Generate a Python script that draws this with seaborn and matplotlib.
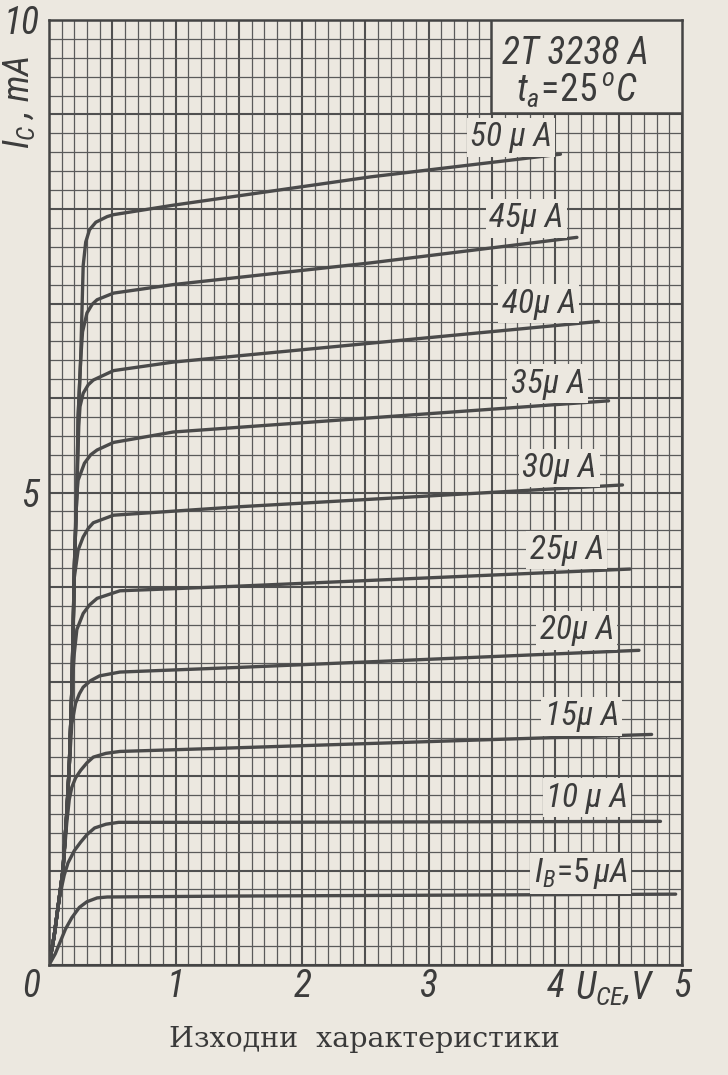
import numpy as np
import pandas as pd
import seaborn as sns
import matplotlib.pyplot as plt
from matplotlib.ticker import MultipleLocator, FuncFormatter
from matplotlib.patches import Rectangle
from matplotlib import font_manager

# Output characteristics (U_CE in V, I_C in mA)
base_currents = [5, 10, 15, 20, 25, 30, 35, 40, 45, 50]

u_05 = [0, 0.05, 0.09, 0.13, 0.18, 0.24, 0.30, 0.38, 0.46, 1.5, 4.95]
i_05 = [0, 0.12, 0.25, 0.38, 0.50, 0.61, 0.67, 0.71, 0.72, 0.73, 0.75]

u_10 = [0, 0.04, 0.08, 0.12, 0.15, 0.20, 0.25, 0.30, 0.36, 0.45, 0.55, 1.5, 4.83]
i_10 = [0, 0.30, 0.70, 0.95, 1.08, 1.21, 1.30, 1.38, 1.45, 1.49, 1.51, 1.51, 1.52]

u_15 = [0, 0.04, 0.08, 0.11, 0.14, 0.16, 0.18, 0.21, 0.25, 0.30, 0.35, 0.45, 0.56, 1.51, 4.76]
i_15 = [0, 0.30, 0.70, 1.00, 1.50, 1.75, 1.88, 1.98, 2.06, 2.14, 2.20, 2.24, 2.26, 2.30, 2.44]

u_20 = [0, 0.04, 0.08, 0.11, 0.14, 0.16, 0.18, 0.21, 0.24, 0.27, 0.33, 0.40, 0.56, 1.51, 4.66]
i_20 = [0, 0.30, 0.70, 1.00, 1.60, 2.10, 2.55, 2.77, 2.87, 2.94, 3.01, 3.06, 3.10, 3.15, 3.33]

u_25 = [0, 0.04, 0.08, 0.11, 0.14, 0.16, 0.18, 0.20, 0.22, 0.27, 0.32, 0.38, 0.56, 1.51, 4.59]
i_25 = [0, 0.30, 0.70, 1.00, 1.60, 2.10, 2.90, 3.30, 3.55, 3.72, 3.81, 3.88, 3.96, 4.01, 4.19]

u_30 = [0, 0.04, 0.08, 0.11, 0.14, 0.16, 0.18, 0.19, 0.20, 0.23, 0.27, 0.31, 0.35, 0.51, 1.51, 4.53]
i_30 = [0, 0.30, 0.70, 1.00, 1.60, 2.10, 2.90, 3.50, 4.10, 4.39, 4.53, 4.62, 4.68, 4.76, 4.85, 5.08]

u_35 = [0, 0.04, 0.08, 0.11, 0.14, 0.16, 0.18, 0.19, 0.20, 0.215, 0.23, 0.28, 0.33, 0.38, 0.51, 0.98, 2.54, 4.42]
i_35 = [0, 0.30, 0.70, 1.00, 1.60, 2.10, 2.90, 3.50, 4.20, 4.90, 5.13, 5.31, 5.40, 5.45, 5.53, 5.64, 5.79, 5.97]

u_40 = [0, 0.04, 0.08, 0.11, 0.14, 0.16, 0.18, 0.19, 0.20, 0.22, 0.235, 0.245, 0.27, 0.31, 0.35, 0.51, 0.98, 2.54, 4.34]
i_40 = [0, 0.30, 0.70, 1.00, 1.60, 2.10, 2.90, 3.50, 4.20, 5.00, 5.70, 5.91, 6.05, 6.14, 6.19, 6.29, 6.38, 6.58, 6.81]

u_45 = [0, 0.04, 0.08, 0.11, 0.14, 0.16, 0.18, 0.19, 0.20, 0.22, 0.23, 0.25, 0.265, 0.30, 0.34, 0.38, 0.51, 0.98, 2.54, 4.17]
i_45 = [0, 0.30, 0.70, 1.00, 1.60, 2.10, 2.90, 3.50, 4.20, 5.00, 5.80, 6.40, 6.70, 6.90, 6.99, 7.04, 7.11, 7.20, 7.43, 7.70]

u_50 = [0, 0.04, 0.08, 0.11, 0.14, 0.16, 0.18, 0.19, 0.20, 0.22, 0.23, 0.25, 0.26, 0.27, 0.29, 0.32, 0.37, 0.46, 0.51, 0.98, 2.54, 4.04]
i_50 = [0, 0.30, 0.70, 1.00, 1.60, 2.10, 2.90, 3.50, 4.20, 5.00, 5.80, 6.40, 6.90, 7.40, 7.65, 7.78, 7.86, 7.92, 7.94, 8.04, 8.34, 8.58]

curve_u = [u_05, u_10, u_15, u_20, u_25, u_30, u_35, u_40, u_45, u_50]
curve_i = [i_05, i_10, i_15, i_20, i_25, i_30, i_35, i_40, i_45, i_50]

# curve labels and where they sit (V, mA)
label_text = ['$I_B\\!=\\!5\\,\\mu A$', '10 µ A', '15µ A', '20µ A', '25µ A',
              '30µ A', '35µ A', '40µ A', '45µ A', '50 µ A']
label_u = [4.20, 4.25, 4.21, 4.17, 4.09, 4.03, 3.94, 3.87, 3.77, 3.65]
label_i = [0.97, 1.77, 2.63, 3.54, 4.39, 5.26, 6.15, 7.00, 7.90, 8.76]

paper = '#ece8e0'
ink = '#4a4a4a'

names = {f.name for f in font_manager.fontManager.ttflist}
narrow = [n for n in ['Roboto Condensed', 'Liberation Sans Narrow'] if n in names] + ['DejaVu Sans']

rows = []
for ib, us, cs in zip(base_currents, curve_u, curve_i):
    for k, (u, c) in enumerate(zip(us, cs)):
        rows.append({'Ib': ib, 'Uce': u, 'Ic': c, 'order': k})
df = pd.DataFrame(rows)

sns.set_style('white')
plt.rcParams['font.family'] = ['DejaVu Sans']
plt.rcParams['mathtext.fontset'] = 'custom'
plt.rcParams['mathtext.it'] = narrow[0] + ':italic'
plt.rcParams['mathtext.rm'] = narrow[0]

fig = plt.figure(figsize=(7.28, 10.75), dpi=100, facecolor=paper)
ax = fig.add_axes([0.0673, 0.1023, 0.8695, 0.8791])
ax.set_facecolor(paper)

for ib in base_currents:
    sns.lineplot(data=df[df['Ib'] == ib], x='Uce', y='Ic', sort=False,
                 estimator=None, color=ink, linewidth=2.4, ax=ax, zorder=3)

ax.set_xlim(0, 5)
ax.set_ylim(0, 10)

# graph paper grid
ax.xaxis.set_major_locator(MultipleLocator(0.5))
ax.xaxis.set_minor_locator(MultipleLocator(0.1))
ax.yaxis.set_major_locator(MultipleLocator(1))
ax.yaxis.set_minor_locator(MultipleLocator(0.2))
ax.grid(which='major', color='#505050', linewidth=1.5, zorder=1)
ax.grid(which='minor', color='#5a5a5a', linewidth=0.9, zorder=1)
ax.set_axisbelow(True)
ax.tick_params(which='both', length=0)

def xfmt(v, pos):
    return '%d' % v if abs(v - round(v)) < 1e-6 and round(v) > 0 else ''

def yfmt(v, pos):
    return '%d' % v if round(v) in (5, 10) and abs(v - round(v)) < 1e-6 else ''

ax.xaxis.set_major_formatter(FuncFormatter(xfmt))
ax.yaxis.set_major_formatter(FuncFormatter(yfmt))
for lab in ax.get_xticklabels() + ax.get_yticklabels():
    lab.set_family(narrow)
    lab.set_style('italic')
    lab.set_fontsize(27)
    lab.set_color('#3c3c3c')
ax.tick_params(axis='x', pad=2)
ax.tick_params(axis='y', pad=7)
ax.set_xlabel('')
ax.set_ylabel('')

for s in ax.spines.values():
    s.set_color('#444444')
    s.set_linewidth(1.8)

ax.text(-0.14, -0.23, '0', family=narrow, style='italic', fontsize=27,
        color='#3c3c3c', ha='center', va='center', clip_on=False)
ax.text(4.47, -0.25, '$U_{CE}$,V', family=narrow, style='italic', fontsize=27,
        color='#3c3c3c', ha='center', va='center', clip_on=False)
fig.text(0.026, 0.905, '$I_C$ , mA', family=narrow, style='italic', fontsize=26,
         color='#3c3c3c', rotation=90, ha='center', va='center')

for t, u, c in zip(label_text, label_u, label_i):
    ax.text(u, c, t, family=narrow, style='italic', fontsize=24, color='#3c3c3c',
            ha='center', va='center', zorder=4,
            bbox=dict(boxstyle='square,pad=0.1', fc=paper, ec='none'))

# type box in the top right corner
ax.add_patch(Rectangle((3.49, 9.02), 1.51, 0.98, fc=paper, ec='#444444',
                       lw=1.8, zorder=4))
ax.text(4.16, 9.65, '2T 3238 A', family=narrow, style='italic', fontsize=27,
        color='#3c3c3c', ha='center', va='center', zorder=5)
ax.text(4.17, 9.26, '$t_a\\!=\\!25\\,^{o}C$', family=narrow, style='italic',
        fontsize=27, color='#3c3c3c', ha='center', va='center', zorder=5)

fig.text(0.5, 0.033, 'Изходни  характеристики', family='DejaVu Serif',
         fontsize=20.5, color='#3a3a3a', ha='center', va='center')

fig.savefig('out.png', dpi=100, facecolor=paper)
